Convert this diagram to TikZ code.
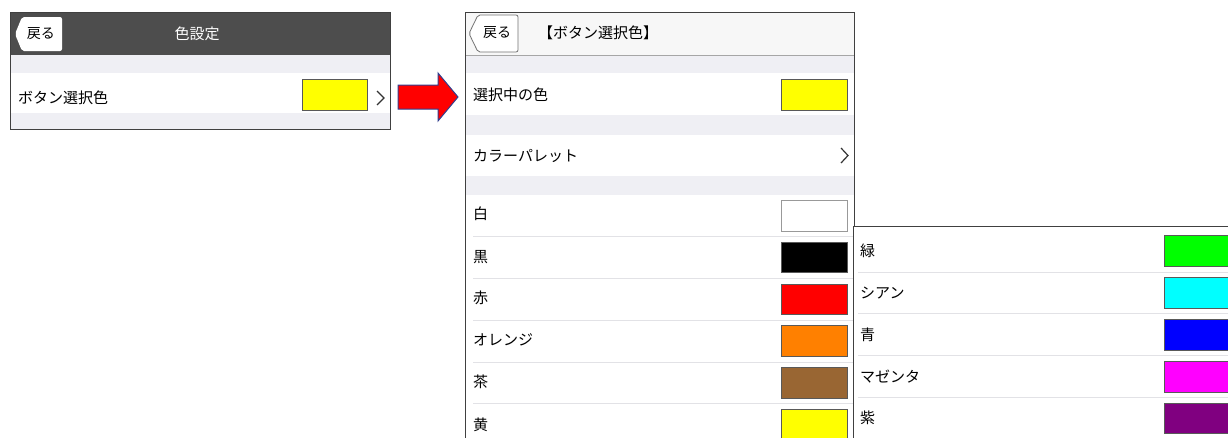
\documentclass[tikz,border=0pt]{standalone}
\usepackage{fontspec}
\setmainfont{Noto Sans CJK JP}
\definecolor{hdrdark}{HTML}{4D4D4D}
\definecolor{hdrlight}{HTML}{F7F7F7}
\definecolor{strip}{HTML}{EFEFF4}
\definecolor{sepc}{HTML}{E2E2E6}
\definecolor{framec}{HTML}{404040}
\definecolor{arrowline}{HTML}{2F3F8F}
\definecolor{cYellow}{HTML}{FFFF00}
\definecolor{cRed}{HTML}{FF0000}
\definecolor{cGreen}{HTML}{00FF00}
\definecolor{cCyan}{HTML}{00FFFF}
\definecolor{cBlue}{HTML}{0000FF}
\definecolor{cMagenta}{HTML}{FF00FF}
\definecolor{cOrange}{HTML}{FF8000}
\definecolor{cBrown}{HTML}{996633}
\definecolor{cPurple}{HTML}{800080}
\begin{document}
\begin{tikzpicture}[x=1pt,y=-1pt,
  lbl/.style={anchor=west,inner sep=0pt,font=\fontsize{15}{15}\selectfont},
  ttl/.style={inner sep=0pt,font=\fontsize{15}{15}\selectfont},
  btxt/.style={inner sep=0pt,font=\fontsize{14}{14}\selectfont},
  swatch/.style={draw=black!65,line width=0.7pt},
  sepline/.style={draw=sepc,line width=0.8pt},
  frameline/.style={draw=framec,line width=0.9pt},
  chev/.style={draw=black!80,line width=1.2pt,line join=miter}]
\useasboundingbox (0,0) rectangle (1228,437);
\begin{scope}
\clip (0,0) rectangle (1228,437);
% ===== Panel 1 =====
\fill[white] (10,12) rectangle (390,129);
\fill[hdrdark] (10,12) rectangle (390,55);
\fill[strip] (10,55) rectangle (390,73);
\fill[strip] (10,113) rectangle (390,129);
\fill[white,rounded corners=2pt] (15,34) -- (22,17) -- (62,17) -- (62,51) -- (22,51) -- cycle;
\node[btxt] (back1) at (41,34) {戻る};
\node[ttl,text=white] (title1) at (197,34) {色設定};
\node[lbl] (btncol) at (18,98) {ボタン選択色};
\fill[cYellow,swatch] (302,79) rectangle (367,110);
\draw[chev] (377,91) -- (384,98) -- (377,105);
\draw[frameline] (10,12) rectangle (390,129);
% ===== Arrow =====
\draw[fill=cRed,draw=arrowline,line width=1pt,line join=miter]
  (398,85) -- (438,85) -- (438,73) -- (458,97) -- (438,121) -- (438,109) -- (398,109) -- cycle;
% ===== Panel 2 =====
\fill[white] (465,12) rectangle (854,437);
\fill[hdrlight] (465,12) rectangle (854,55);
\draw[draw=black!35,line width=0.8pt] (465,55) -- (854,55);
\draw[draw=black!55,fill=white,line width=0.8pt,rounded corners=2pt]
  (469,33.5) -- (478,15) -- (518,15) -- (518,52) -- (478,52) -- cycle;
\node[btxt] (back2) at (497,33) {戻る};
\node[ttl] (title2) at (598,33) {【ボタン選択色】};
\fill[strip] (465,55.5) rectangle (854,73);
\fill[strip] (465,115) rectangle (854,135);
\fill[strip] (465,176) rectangle (854,195);
\node[lbl] (cur) at (473,95) {選択中の色};
\fill[cYellow,swatch] (781,79) rectangle (847,110);
\node[lbl] (pal) at (473,156) {カラーパレット};
\draw[chev] (841,148) -- (848,155.5) -- (841,163);
\foreach \yy in {236,278,320,362,403} \draw[sepline] (473,\yy) -- (854,\yy);
\node[lbl] (cw) at (473,214) {白};
\fill[white,draw=black!40,line width=0.8pt] (781,200) rectangle (847,231);
\node[lbl] (ck) at (473,257) {黒};
\fill[black,swatch] (781,242) rectangle (847,272);
\node[lbl] (cr) at (473,298) {赤};
\fill[cRed,swatch] (781,284) rectangle (847,314);
\node[lbl] (co) at (473,340) {オレンジ};
\fill[cOrange,swatch] (781,325) rectangle (847,356);
\node[lbl] (cb) at (473,382) {茶};
\fill[cBrown,swatch] (781,367) rectangle (847,398);
\node[lbl] (cy) at (473,425) {黄};
\fill[cYellow,swatch] (781,409) rectangle (847,445);
\draw[frameline] (465,440) -- (465,12) -- (854,12) -- (854,226);
% ===== Panel 3 =====
\fill[white] (853,226) rectangle (1232,440);
\foreach \yy in {272,313,355,397} \draw[sepline] (858,\yy) -- (1232,\yy);
\node[lbl] (cg) at (860,251) {緑};
\fill[cGreen,swatch] (1164,235) rectangle (1235,266);
\node[lbl] (cc) at (860,293) {シアン};
\fill[cCyan,swatch] (1164,277) rectangle (1235,308);
\node[lbl] (cbl) at (860,335) {青};
\fill[cBlue,swatch] (1164,319) rectangle (1235,350);
\node[lbl] (cm) at (860,377) {マゼンタ};
\fill[cMagenta,swatch] (1164,361) rectangle (1235,392);
\node[lbl] (cp) at (860,418) {紫};
\fill[cPurple,swatch] (1164,403) rectangle (1235,433);
\draw[frameline] (853,440) -- (853,226) -- (1232,226);
\end{scope}
\end{tikzpicture}
\end{document}
